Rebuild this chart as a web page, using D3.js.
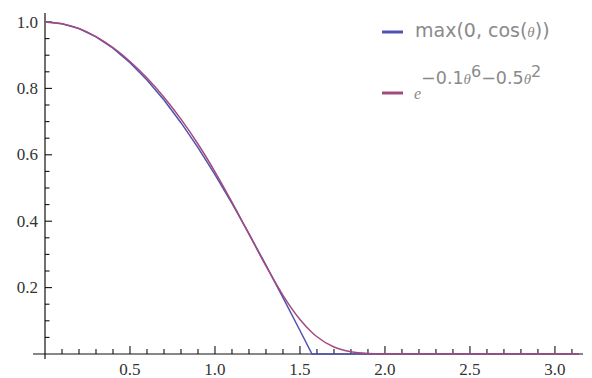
<!DOCTYPE html>
<html>
<head>
<meta charset="utf-8">
<script src="https://cdn.jsdelivr.net/npm/d3@7"></script>
<style>
  body { margin: 0; background: #fff; }
  svg { display: block; }
</style>
</head>
<body>
<div id="chart"></div>
<script>
// theta samples (extra point at the cos kink)
const theta = [0, 0.1, 0.2, 0.3, 0.4, 0.5, 0.6, 0.7, 0.8, 0.9, 1.0, 1.1, 1.2, 1.3, 1.4, 1.5,
  1.5708, 1.6, 1.7, 1.8, 1.9, 2.0, 2.1, 2.2, 2.4, 2.6, 2.8, 3.0, 3.1416];
const cosVals = [1, 0.995, 0.9801, 0.9553, 0.9211, 0.8776, 0.8253, 0.7648, 0.6967, 0.6216, 0.5403,
  0.4536, 0.3624, 0.2675, 0.17, 0.0707, 0, 0, 0, 0, 0, 0, 0, 0, 0, 0, 0, 0, 0];
const expVals = [1, 0.995, 0.9802, 0.9559, 0.9227, 0.8811, 0.8314, 0.7736, 0.7074, 0.6325, 0.5488,
  0.4574, 0.3611, 0.2651, 0.1768, 0.1039, 0.0648, 0.0519, 0.0211, 0.0066, 0.0015, 0.0002, 0, 0, 0, 0, 0, 0, 0];
const xTicks = [0.5, 1.0, 1.5, 2.0, 2.5, 3.0];
const yTicks = [0.2, 0.4, 0.6, 0.8, 1.0];

const W = 592, H = 378;
const blue = '#5252b4', purple = '#a24b7e';
const serif = "'Liberation Serif', 'Times New Roman', serif";

const svg = d3.select('#chart').append('svg').attr('width', W).attr('height', H);

const x = d3.scaleLinear().domain([0, Math.PI]).range([45, 579]);
const y = d3.scaleLinear().domain([0, 1]).range([354, 22]);

// axes lines
svg.append('line').attr('x1', 33).attr('x2', 583).attr('y1', y(0)).attr('y2', y(0))
  .attr('stroke', '#111').attr('stroke-width', 1.2);
svg.append('line').attr('x1', x(0)).attr('x2', x(0)).attr('y1', 13).attr('y2', 359)
  .attr('stroke', '#111').attr('stroke-width', 1.2);

// x ticks, drawn upward
const xMinor = d3.range(1, 32).map(i => i / 10);
svg.append('g').selectAll('line').data(xMinor).join('line')
  .attr('x1', d => x(d)).attr('x2', d => x(d))
  .attr('y1', y(0))
  .attr('y2', d => Math.abs(d * 2 - Math.round(d * 2)) < 1e-6 ? y(0) - 8 : y(0) - 5)
  .attr('stroke', '#111').attr('stroke-width', 1.1);
svg.append('g').selectAll('text').data(xTicks).join('text')
  .attr('x', d => x(d)).attr('y', 375)
  .attr('text-anchor', 'middle')
  .attr('font-family', serif).attr('font-size', 17).attr('fill', '#333')
  .text(d => d.toFixed(1));

// y ticks, drawn to the right
const yMinor = d3.range(1, 21).map(i => i / 20);
svg.append('g').selectAll('line').data(yMinor).join('line')
  .attr('y1', d => y(d)).attr('y2', d => y(d))
  .attr('x1', x(0))
  .attr('x2', d => Math.abs(d * 5 - Math.round(d * 5)) < 1e-6 ? x(0) + 7 : x(0) + 4.5)
  .attr('stroke', '#111').attr('stroke-width', 1.1);
svg.append('g').selectAll('text').data(yTicks).join('text')
  .attr('x', 38).attr('y', d => y(d) + 5.5)
  .attr('text-anchor', 'end')
  .attr('font-family', serif).attr('font-size', 17).attr('fill', '#333')
  .text(d => d.toFixed(1));

// curves
const cosLine = d3.line().x((d, i) => x(theta[i])).y(d => y(d));
const expLine = d3.line().x((d, i) => x(theta[i])).y(d => y(d)).curve(d3.curveMonotoneX);

svg.append('path').attr('d', cosLine(cosVals))
  .attr('fill', 'none').attr('stroke', blue).attr('stroke-width', 1.5);
svg.append('path').attr('d', expLine(expVals))
  .attr('fill', 'none').attr('stroke', purple).attr('stroke-width', 1.5);

// legend
const leg = svg.append('g');
leg.append('line').attr('x1', 382).attr('x2', 403).attr('y1', 32).attr('y2', 32)
  .attr('stroke', blue).attr('stroke-width', 3);
leg.append('line').attr('x1', 382).attr('x2', 403).attr('y1', 93).attr('y2', 93)
  .attr('stroke', purple).attr('stroke-width', 3);

const t1 = leg.append('text').attr('x', 415).attr('y', 37)
  .attr('font-family', 'DejaVu Sans').attr('font-size', 19).attr('fill', '#8a8a8a');
t1.append('tspan').text('max(0, cos(');
t1.append('tspan').attr('font-family', serif).attr('font-style', 'italic').attr('font-size', 15).text('θ');
t1.append('tspan').text('))');

const t2 = leg.append('text').attr('x', 414).attr('y', 99)
  .attr('font-family', 'DejaVu Sans').attr('fill', '#8a8a8a');
t2.append('tspan').attr('font-family', serif).attr('font-style', 'italic').attr('font-size', 16).text('e');
t2.append('tspan').attr('dy', -15).attr('font-size', 17.5).text('−0.1');
t2.append('tspan').attr('font-family', serif).attr('font-style', 'italic').attr('font-size', 15).text('θ');
t2.append('tspan').attr('dy', -7).attr('font-size', 16).text('6');
t2.append('tspan').attr('dy', 7).attr('font-size', 17.5).text('−0.5');
t2.append('tspan').attr('font-family', serif).attr('font-style', 'italic').attr('font-size', 15).text('θ');
t2.append('tspan').attr('dy', -7).attr('font-size', 16).text('2');
</script>
</body>
</html>
